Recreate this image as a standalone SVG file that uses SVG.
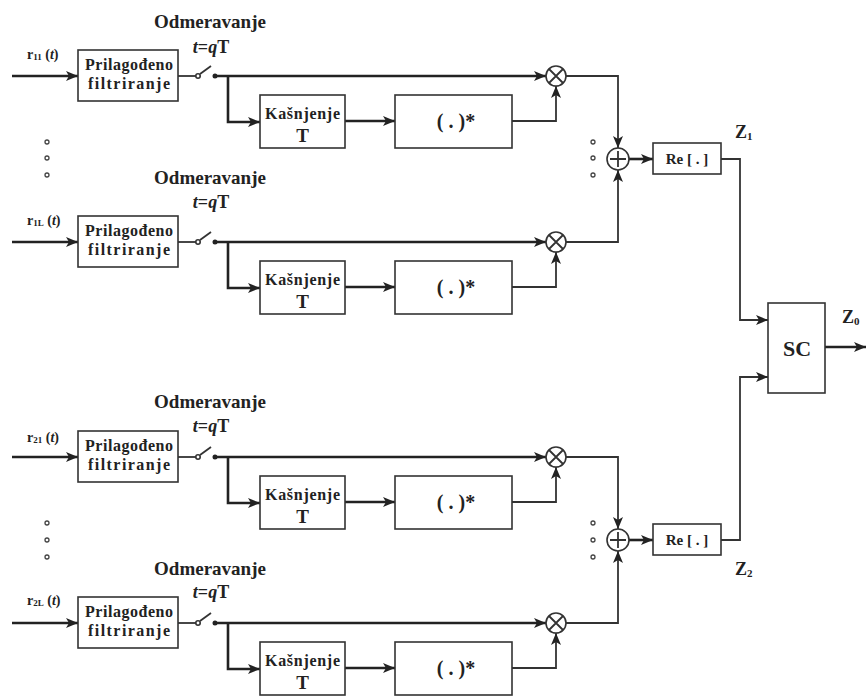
<svg xmlns="http://www.w3.org/2000/svg" width="866" height="696" viewBox="0 0 866 696">
<style>
text{font-family:"Liberation Serif","Times New Roman",serif;font-weight:bold;fill:#222}
.box{fill:#fff;stroke:#333;stroke-width:1.6}
.thick{fill:none;stroke:#222;stroke-width:2.6}
.thin{fill:none;stroke:#333;stroke-width:1.8}
.op{fill:#fff;stroke:#333;stroke-width:1.6}
.dot{fill:#fff;stroke:#444;stroke-width:1.3}
.fl{font-size:16px;text-anchor:middle}
.ks{font-size:16px;text-anchor:middle}
.kt{font-size:19px;text-anchor:middle}
.cj{font-size:20px;text-anchor:middle}
.od{font-size:19px;text-anchor:middle}
.tq{font-size:18px;text-anchor:middle}
.lb{font-size:14px}
.re{font-size:15px;text-anchor:middle}
.z{font-size:18px}
</style>
<defs>
<marker id="ar" markerUnits="userSpaceOnUse" markerWidth="12" markerHeight="10" viewBox="0 0 12 10" refX="12" refY="5" orient="auto">
<path d="M0,0 L12,5 L0,10 L3,5 z" fill="#222"/>
</marker>
</defs>
<rect width="866" height="696" fill="#fff"/>

<g id="connectors">
<!-- block 1 -->
<path class="thick" d="M12,76 H78" marker-end="url(#ar)"/>
<path class="thin" d="M178,76 H196"/>
<path class="thick" d="M215,76 H546" marker-end="url(#ar)"/>
<path class="thick" d="M228,76 V122 H260" marker-end="url(#ar)"/>
<path class="thick" d="M345,121 H395" marker-end="url(#ar)"/>
<path class="thin" d="M512,121 H556 V86" marker-end="url(#ar)"/>
<path class="thin" d="M566,76 H618 V148" marker-end="url(#ar)"/>
<!-- block 2 -->
<path class="thick" d="M12,242 H78" marker-end="url(#ar)"/>
<path class="thin" d="M178,242 H196"/>
<path class="thick" d="M215,242 H546" marker-end="url(#ar)"/>
<path class="thick" d="M228,242 V288 H260" marker-end="url(#ar)"/>
<path class="thick" d="M345,287 H395" marker-end="url(#ar)"/>
<path class="thin" d="M512,287 H556 V252" marker-end="url(#ar)"/>
<path class="thin" d="M566,242 H618 V170" marker-end="url(#ar)"/>
<!-- block 3 -->
<path class="thick" d="M12,457 H78" marker-end="url(#ar)"/>
<path class="thin" d="M178,457 H196"/>
<path class="thick" d="M215,457 H546" marker-end="url(#ar)"/>
<path class="thick" d="M228,457 V503 H260" marker-end="url(#ar)"/>
<path class="thick" d="M345,502 H395" marker-end="url(#ar)"/>
<path class="thin" d="M512,502 H556 V467" marker-end="url(#ar)"/>
<path class="thin" d="M566,457 H618 V529" marker-end="url(#ar)"/>
<!-- block 4 -->
<path class="thick" d="M12,623 H78" marker-end="url(#ar)"/>
<path class="thin" d="M178,623 H196"/>
<path class="thick" d="M215,623 H546" marker-end="url(#ar)"/>
<path class="thick" d="M228,623 V669 H260" marker-end="url(#ar)"/>
<path class="thick" d="M345,668 H395" marker-end="url(#ar)"/>
<path class="thin" d="M512,668 H556 V633" marker-end="url(#ar)"/>
<path class="thin" d="M566,623 H618 V551" marker-end="url(#ar)"/>
<!-- sums to Re, Re to SC -->
<path class="thick" d="M629,159 H653" marker-end="url(#ar)"/>
<path class="thick" d="M629,540 H653" marker-end="url(#ar)"/>
<path class="thin" d="M721,159 H740 V320 H768" marker-end="url(#ar)"/>
<path class="thin" d="M721,540 H740 V377 H768" marker-end="url(#ar)"/>
<path class="thick" d="M825,347 H866" marker-end="url(#ar)"/>
</g>

<!-- switches -->
<g id="switch1"><circle class="op" cx="198" cy="76" r="2.2"/><path class="thin" d="M200,74 L211,66"/><circle cx="215" cy="76" r="2.5" fill="#222"/></g>
<g id="switch2"><circle class="op" cx="198" cy="242" r="2.2"/><path class="thin" d="M200,240 L211,232"/><circle cx="215" cy="242" r="2.5" fill="#222"/></g>
<g id="switch3"><circle class="op" cx="198" cy="457" r="2.2"/><path class="thin" d="M200,455 L211,447"/><circle cx="215" cy="457" r="2.5" fill="#222"/></g>
<g id="switch4"><circle class="op" cx="198" cy="623" r="2.2"/><path class="thin" d="M200,621 L211,613"/><circle cx="215" cy="623" r="2.5" fill="#222"/></g>

<!-- labels sampling -->
<g id="samp1"><text class="od" x="210" y="28">Odmeravanje</text><text class="tq" x="211" y="53"><tspan font-style="italic">t</tspan>=<tspan font-style="italic">q</tspan>T</text></g>
<g id="samp2"><text class="od" x="210" y="184">Odmeravanje</text><text class="tq" x="211" y="208"><tspan font-style="italic">t</tspan>=<tspan font-style="italic">q</tspan>T</text></g>
<g id="samp3"><text class="od" x="210" y="408">Odmeravanje</text><text class="tq" x="211" y="432"><tspan font-style="italic">t</tspan>=<tspan font-style="italic">q</tspan>T</text></g>
<g id="samp4"><text class="od" x="210" y="575">Odmeravanje</text><text class="tq" x="211" y="598"><tspan font-style="italic">t</tspan>=<tspan font-style="italic">q</tspan>T</text></g>

<!-- input labels -->
<g id="in1"><text class="lb" x="27" y="59">r<tspan font-size="9" dy="1">11</tspan><tspan dy="-1"> (</tspan><tspan font-style="italic">t</tspan>)</text></g>
<g id="in2"><text class="lb" x="27" y="225">r<tspan font-size="9" dy="1">1L</tspan><tspan dy="-1"> (</tspan><tspan font-style="italic">t</tspan>)</text></g>
<g id="in3"><text class="lb" x="27" y="442">r<tspan font-size="9" dy="1">21</tspan><tspan dy="-1"> (</tspan><tspan font-style="italic">t</tspan>)</text></g>
<g id="in4"><text class="lb" x="27" y="605">r<tspan font-size="9" dy="1">2L</tspan><tspan dy="-1"> (</tspan><tspan font-style="italic">t</tspan>)</text></g>

<!-- filters -->
<g id="filter1"><rect class="box" x="78" y="50" width="100" height="51"/><text class="fl" x="129" y="70" textLength="88">Prilagođeno</text><text class="fl" x="129" y="89" textLength="82">filtriranje</text></g>
<g id="filter2"><rect class="box" x="78" y="216" width="100" height="51"/><text class="fl" x="129" y="236" textLength="88">Prilagođeno</text><text class="fl" x="129" y="255" textLength="82">filtriranje</text></g>
<g id="filter3"><rect class="box" x="78" y="431" width="100" height="51"/><text class="fl" x="129" y="451" textLength="88">Prilagođeno</text><text class="fl" x="129" y="470" textLength="82">filtriranje</text></g>
<g id="filter4"><rect class="box" x="78" y="597" width="100" height="51"/><text class="fl" x="129" y="617" textLength="88">Prilagođeno</text><text class="fl" x="129" y="636" textLength="82">filtriranje</text></g>

<!-- delays -->
<g id="delay1"><rect class="box" x="260" y="95" width="85" height="53"/><text class="ks" x="302.5" y="119" textLength="75">Kašnjenje</text><text class="kt" x="302.5" y="142">T</text></g>
<g id="delay2"><rect class="box" x="260" y="261" width="85" height="53"/><text class="ks" x="302.5" y="285" textLength="75">Kašnjenje</text><text class="kt" x="302.5" y="308">T</text></g>
<g id="delay3"><rect class="box" x="260" y="476" width="85" height="53"/><text class="ks" x="302.5" y="500" textLength="75">Kašnjenje</text><text class="kt" x="302.5" y="523">T</text></g>
<g id="delay4"><rect class="box" x="260" y="642" width="85" height="53"/><text class="ks" x="302.5" y="666" textLength="75">Kašnjenje</text><text class="kt" x="302.5" y="689">T</text></g>

<!-- conjugate -->
<g id="conj1"><rect class="box" x="395" y="95" width="117" height="53"/><text class="cj" x="456" y="128">( . )*</text></g>
<g id="conj2"><rect class="box" x="395" y="261" width="117" height="53"/><text class="cj" x="456" y="294">( . )*</text></g>
<g id="conj3"><rect class="box" x="395" y="476" width="117" height="53"/><text class="cj" x="456" y="509">( . )*</text></g>
<g id="conj4"><rect class="box" x="395" y="642" width="117" height="53"/><text class="cj" x="456" y="675">( . )*</text></g>

<!-- multipliers -->
<g id="mul1"><circle class="op" cx="556" cy="76" r="10"/><path class="thin" d="M549,69 L563,83 M563,69 L549,83" stroke-width="1.4"/></g>
<g id="mul2"><circle class="op" cx="556" cy="242" r="10"/><path class="thin" d="M549,235 L563,249 M563,235 L549,249" stroke-width="1.4"/></g>
<g id="mul3"><circle class="op" cx="556" cy="457" r="10"/><path class="thin" d="M549,450 L563,464 M563,450 L549,464" stroke-width="1.4"/></g>
<g id="mul4"><circle class="op" cx="556" cy="623" r="10"/><path class="thin" d="M549,616 L563,630 M563,616 L549,630" stroke-width="1.4"/></g>

<!-- sums -->
<g id="sum1"><circle class="op" cx="618" cy="159" r="11"/><path class="thin" d="M610,159 H626 M618,151 V167" stroke-width="1.4"/></g>
<g id="sum2"><circle class="op" cx="618" cy="540" r="11"/><path class="thin" d="M610,540 H626 M618,532 V548" stroke-width="1.4"/></g>

<!-- Re blocks -->
<g id="re1"><rect class="box" x="653" y="143" width="68" height="31"/><text class="re" x="687" y="164">Re [ . ]</text></g>
<g id="re2"><rect class="box" x="653" y="524" width="68" height="31"/><text class="re" x="687" y="545">Re [ . ]</text></g>
<g id="z1"><text class="z" x="735" y="138">Z<tspan font-size="11" dy="2">1</tspan></text></g>
<g id="z2"><text class="z" x="735" y="575">Z<tspan font-size="11" dy="2">2</tspan></text></g>

<!-- SC -->
<g id="sc"><rect class="box" x="768" y="303" width="57" height="90"/><text x="797" y="356" font-size="22" text-anchor="middle">SC</text></g>
<g id="z0"><text class="z" x="842" y="323">Z<tspan font-size="11" dy="2">0</tspan></text></g>

<!-- ellipsis dots -->
<g id="dots">
<circle class="dot" cx="47" cy="142" r="2"/><circle class="dot" cx="47" cy="158" r="2"/><circle class="dot" cx="47" cy="175" r="2"/>
<circle class="dot" cx="47" cy="523" r="2"/><circle class="dot" cx="47" cy="540" r="2"/><circle class="dot" cx="47" cy="557" r="2"/>
<circle class="dot" cx="593" cy="142" r="2"/><circle class="dot" cx="593" cy="158" r="2"/><circle class="dot" cx="593" cy="175" r="2"/>
<circle class="dot" cx="593" cy="523" r="2"/><circle class="dot" cx="593" cy="540" r="2"/><circle class="dot" cx="593" cy="557" r="2"/>
</g>
</svg>
